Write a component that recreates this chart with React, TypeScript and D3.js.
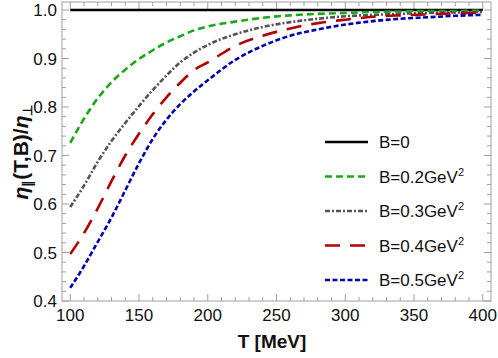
import React from "react";
import * as d3 from "d3";

const temps = [100, 110, 120, 130, 140, 150, 160, 170, 180, 190, 200, 220, 240, 260, 280, 300, 320, 340, 360, 380, 400];
const seriesB0 = [1, 1, 1, 1, 1, 1, 1, 1, 1, 1, 1, 1, 1, 1, 1, 1, 1, 1, 1, 1, 1];
const seriesB02 = [0.726, 0.776, 0.818, 0.851, 0.877, 0.899, 0.917, 0.933, 0.946, 0.958, 0.966, 0.976, 0.984, 0.989, 0.992, 0.994, 0.996, 0.997, 0.998, 0.998, 0.999];
const seriesB03 = [0.594, 0.638, 0.687, 0.730, 0.767, 0.802, 0.835, 0.865, 0.892, 0.912, 0.928, 0.950, 0.965, 0.975, 0.982, 0.987, 0.990, 0.992, 0.994, 0.995, 0.996];
const seriesB04 = [0.497, 0.540, 0.591, 0.647, 0.700, 0.745, 0.785, 0.820, 0.850, 0.876, 0.892, 0.926, 0.947, 0.962, 0.973, 0.980, 0.986, 0.989, 0.991, 0.993, 0.994];
const seriesB05 = [0.427, 0.472, 0.522, 0.572, 0.628, 0.684, 0.734, 0.774, 0.806, 0.832, 0.855, 0.897, 0.926, 0.947, 0.960, 0.970, 0.977, 0.982, 0.985, 0.988, 0.990];

const legendLabels = ["B=0", "B=0.2GeV", "B=0.3GeV", "B=0.4GeV", "B=0.5GeV"];
const xTicks = [100, 150, 200, 250, 300, 350, 400];
const yTicks = [0.4, 0.5, 0.6, 0.7, 0.8, 0.9, 1.0];

const styles = [
  { color: "#000000", dash: "none" },
  { color: "#1aa81a", dash: "7,4" },
  { color: "#555555", dash: "5,2,2,2" },
  { color: "#b00000", dash: "15,10" },
  { color: "#0000b0", dash: "5,2.5" },
];

const W = 498, H = 358;
const L = 62, R = 491, T = 2, B = 301;
const font = "'Liberation Sans', Arial, sans-serif";

export default function App() {
  const x = d3.scaleLinear().domain([94, 406]).range([L, R]);
  const y = d3.scaleLinear().domain([0.4, 1.0]).range([B, 10]);
  const all = [seriesB0, seriesB02, seriesB03, seriesB04, seriesB05];
  const line = d3.line<number>().x((_, i) => x(temps[i])).y((d) => y(d)).curve(d3.curveMonotoneX);
  const xMinor = d3.range(100, 401, 10).filter((v) => v % 50 !== 0);
  const yMinor = d3.range(0, 31).map((i) => 0.4 + i * 0.02).filter((v) => Math.abs(v * 10 - Math.round(v * 10)) > 1e-6 && v < 1.015);
  const frameColor = "#a0a0a0";
  const legX1 = 325, legX2 = 368, legY0 = 142, legDy = 34.5;
  return (
    <svg width={W} height={H} style={{ position: "absolute", left: 0, top: 0, background: "#fff" }} fontFamily={font}>
      <rect x={0} y={0} width={W} height={H} fill="#fff" />
      {xTicks.map((t) => (
        <g key={"xt" + t}>
          <line x1={x(t)} x2={x(t)} y1={B} y2={B - 7} stroke={frameColor} />
          <line x1={x(t)} x2={x(t)} y1={T} y2={T + 7} stroke={frameColor} />
          <text x={x(t)} y={321} textAnchor="middle" fontSize={17} fill="#111">{t}</text>
        </g>
      ))}
      {xMinor.map((t) => (
        <g key={"xm" + t}>
          <line x1={x(t)} x2={x(t)} y1={B} y2={B - 4} stroke={frameColor} />
          <line x1={x(t)} x2={x(t)} y1={T} y2={T + 4} stroke={frameColor} />
        </g>
      ))}
      {yTicks.map((t) => (
        <g key={"yt" + t}>
          <line x1={L} x2={L + 7} y1={y(t)} y2={y(t)} stroke={frameColor} />
          <line x1={R} x2={R - 7} y1={y(t)} y2={y(t)} stroke={frameColor} />
          <text x={57} y={y(t) + 6} textAnchor="end" fontSize={17} fill="#111">{t.toFixed(1)}</text>
        </g>
      ))}
      {yMinor.map((t) => (
        <g key={"ym" + t}>
          <line x1={L} x2={L + 4} y1={y(t)} y2={y(t)} stroke={frameColor} />
          <line x1={R} x2={R - 4} y1={y(t)} y2={y(t)} stroke={frameColor} />
        </g>
      ))}
      <rect x={L} y={T} width={R - L} height={B - T} fill="none" stroke={frameColor} />
      {all.map((s, i) => (
        <path key={"c" + i} d={line(s) || ""} fill="none" stroke={styles[i].color} strokeWidth={2.6} strokeDasharray={styles[i].dash} />
      ))}
      {legendLabels.map((lab, i) => {
        const ly = legY0 + i * legDy;
        return (
          <g key={"lg" + i}>
            <line x1={legX1} x2={legX2} y1={ly} y2={ly} stroke={styles[i].color} strokeWidth={2.6} strokeDasharray={styles[i].dash} />
            <text x={379} y={ly + 6} fontSize={17} fill="#111">
              {lab}
              {i > 0 ? <tspan dy={-7} fontSize={11}>2</tspan> : null}
            </text>
          </g>
        );
      })}
      <text x={272} y={348} textAnchor="middle" fontSize={19} fontWeight="bold" fill="#111">T [MeV]</text>
      <text transform="translate(28,152) rotate(-90)" textAnchor="middle" fontSize={21} fontWeight="bold" fill="#111">
        <tspan fontStyle="italic">η</tspan>
        <tspan fontSize={13} dy={4}>∥</tspan>
        <tspan dy={-4}>(T,B)/</tspan>
        <tspan fontStyle="italic">η</tspan>
        <tspan fontSize={13} dy={4}>⊥</tspan>
      </text>
    </svg>
  );
}
